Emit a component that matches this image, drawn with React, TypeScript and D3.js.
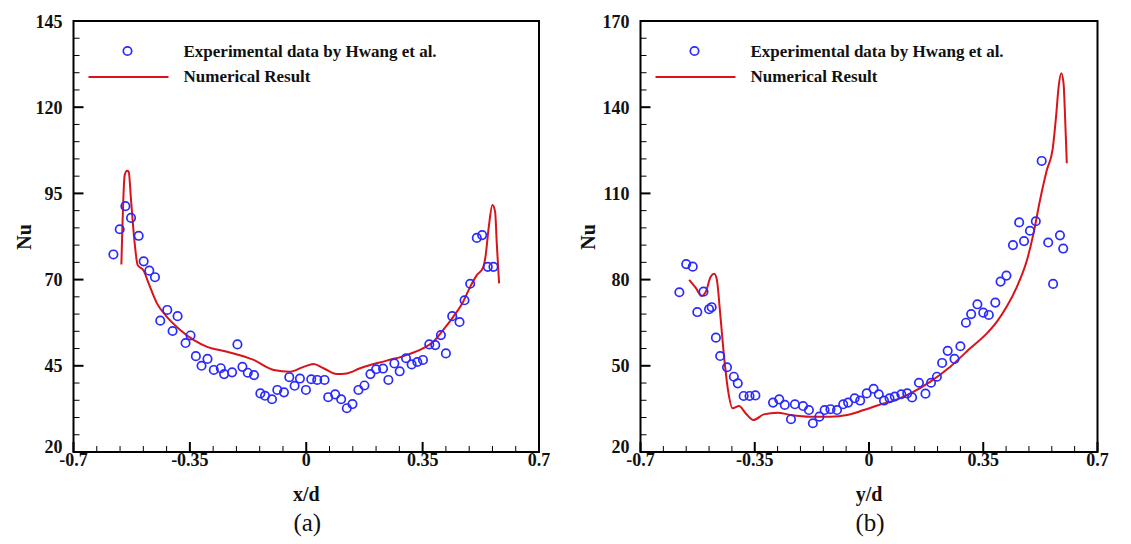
import React from "react";
import * as d3 from "d3";

// ---------- Data ----------
const xTicks = [-0.7, -0.35, 0, 0.35, 0.7];
const xTickLabels = ["-0.7", "-0.35", "0", "0.35", "0.7"];
const yTicksA = [20, 45, 70, 95, 120, 145];
const yTicksB = [20, 50, 80, 110, 140, 170];

const legendLabels = ["Experimental data by Hwang et al.", "Numerical Result"];

// Panel (a): x/d
const expA: [number, number][] = [
  [-0.58, 77.3], [-0.561, 84.6], [-0.544, 91.3], [-0.527, 87.9], [-0.504, 82.7],
  [-0.489, 75.3], [-0.472, 72.6], [-0.455, 70.7], [-0.439, 58.1], [-0.418, 61.2],
  [-0.402, 55.1], [-0.387, 59.4], [-0.363, 51.6], [-0.348, 53.8], [-0.332, 47.8],
  [-0.315, 45.0], [-0.297, 47.0], [-0.278, 43.8], [-0.257, 44.3], [-0.247, 42.6],
  [-0.223, 43.1], [-0.207, 51.2], [-0.192, 44.7], [-0.176, 43.0], [-0.157, 42.3],
  [-0.138, 37.0], [-0.124, 36.3], [-0.103, 35.3], [-0.087, 38.0], [-0.067, 37.3],
  [-0.051, 41.7], [-0.035, 39.2], [-0.019, 41.3], [-0.001, 38.0], [0.015, 41.1],
  [0.033, 40.9], [0.055, 40.9], [0.066, 35.9], [0.087, 36.7], [0.105, 35.3],
  [0.122, 32.7], [0.139, 33.9], [0.157, 38.0], [0.175, 39.3], [0.193, 42.6],
  [0.21, 44.0], [0.231, 44.2], [0.247, 40.9], [0.265, 45.7], [0.281, 43.4],
  [0.3, 47.2], [0.317, 45.4], [0.334, 46.1], [0.351, 46.7], [0.37, 51.2],
  [0.388, 51.0], [0.405, 53.9], [0.42, 48.6], [0.439, 59.4], [0.461, 57.7],
  [0.476, 64.0], [0.493, 68.8], [0.513, 82.1], [0.529, 82.9], [0.546, 73.7],
  [0.563, 73.7],
];

const numA: [number, number][] = [
  [-0.556, 74.4], [-0.546, 100.3], [-0.539, 101.6], [-0.534, 101.3], [-0.527, 93.1],
  [-0.517, 81.5], [-0.507, 74.2], [-0.489, 72.6], [-0.474, 68.9], [-0.449, 63.1],
  [-0.419, 59.2], [-0.379, 55.4], [-0.339, 52.5], [-0.298, 50.5], [-0.238, 49.1],
  [-0.158, 46.7], [-0.098, 43.8], [-0.048, 43.3], [-0.008, 44.7], [0.022, 45.5],
  [0.052, 44.3], [0.092, 42.6], [0.122, 42.8], [0.162, 44.3], [0.242, 46.5],
  [0.302, 48.1], [0.352, 50.1], [0.382, 52.0], [0.412, 55.4], [0.442, 59.2],
  [0.472, 63.6], [0.493, 67.9], [0.513, 71.3], [0.531, 73.3], [0.539, 76.6],
  [0.549, 85.3], [0.56, 91.6], [0.568, 89.7], [0.573, 80.5], [0.58, 68.9],
];

// Panel (b): y/d
const expB: [number, number][] = [
  [-0.581, 75.6], [-0.56, 85.4], [-0.54, 84.5], [-0.526, 68.7], [-0.507, 75.8],
  [-0.49, 69.7], [-0.482, 70.4], [-0.469, 59.8], [-0.456, 53.4], [-0.435, 49.5],
  [-0.414, 46.2], [-0.402, 43.9], [-0.384, 39.5], [-0.366, 39.5], [-0.348, 39.7],
  [-0.294, 37.2], [-0.275, 38.3], [-0.258, 36.4], [-0.239, 31.4], [-0.227, 36.6],
  [-0.202, 36.0], [-0.184, 34.6], [-0.172, 30.0], [-0.152, 32.3], [-0.136, 34.6],
  [-0.118, 34.9], [-0.098, 34.6], [-0.079, 36.6], [-0.064, 37.2], [-0.044, 38.7],
  [-0.027, 37.9], [-0.007, 40.4], [0.014, 42.0], [0.03, 40.1], [0.046, 37.9],
  [0.063, 38.7], [0.079, 39.3], [0.099, 40.1], [0.117, 40.4], [0.132, 39.0],
  [0.153, 44.1], [0.173, 40.3], [0.19, 44.1], [0.208, 46.2], [0.224, 51.0],
  [0.241, 55.2], [0.262, 52.4], [0.28, 56.8], [0.297, 65.0], [0.313, 68.0],
  [0.332, 71.4], [0.35, 68.5], [0.367, 67.7], [0.387, 72.0], [0.403, 79.3],
  [0.421, 81.4], [0.441, 92.0], [0.46, 99.9], [0.475, 93.4], [0.493, 97.0],
  [0.511, 100.3], [0.529, 121.3], [0.549, 92.9], [0.564, 78.5], [0.585, 95.4],
  [0.595, 90.8],
];

const numB: [number, number][] = [
  [-0.551, 79.9], [-0.53, 77.0], [-0.513, 74.3], [-0.5, 75.8], [-0.485, 81.0],
  [-0.474, 82.0], [-0.466, 79.9], [-0.456, 68.3], [-0.444, 53.2], [-0.432, 41.6],
  [-0.418, 35.2], [-0.398, 36.0], [-0.378, 33.5], [-0.354, 31.1], [-0.322, 33.1],
  [-0.281, 33.7], [-0.24, 32.9], [-0.179, 32.3], [-0.118, 32.3], [-0.067, 32.9],
  [-0.016, 34.6], [0.045, 36.9], [0.066, 37.5], [0.127, 40.4], [0.188, 44.5],
  [0.249, 49.7], [0.31, 56.1], [0.361, 61.3], [0.392, 65.4], [0.422, 70.6],
  [0.453, 77.5], [0.484, 86.8], [0.504, 96.1], [0.524, 107.7], [0.545, 118.2],
  [0.563, 125.7], [0.573, 136.7], [0.581, 147.2], [0.589, 151.8], [0.596, 148.3],
  [0.601, 135.6], [0.606, 120.5],
];

const RED = "#d7141a";
const BLUE = "#2a2aff";
const FONT = "'Liberation Serif', 'Times New Roman', serif";

const boldText = {
  fontFamily: FONT,
  fontWeight: "bold" as const,
  fill: "#111",
};

type PanelProps = {
  left: number;
  right: number;
  top: number;
  bottom: number;
  yDomain: [number, number];
  yTicks: number[];
  exp: [number, number][];
  num: [number, number][];
  xLabel: string;
  caption: string;
  nuX: number;
};

function Panel(p: PanelProps) {
  const x = d3.scaleLinear().domain([-0.7, 0.7]).range([p.left, p.right]);
  const y = d3.scaleLinear().domain(p.yDomain).range([p.bottom, p.top]);
  const line = d3
    .line<[number, number]>()
    .x((d) => x(d[0]))
    .y((d) => y(d[1]))
    .curve(d3.curveMonotoneX);

  const xMinor = d3.range(-0.7, 0.7001, 0.07).filter(
    (v) => !xTicks.some((t) => Math.abs(t - v) < 1e-6)
  );
  const yStep = (p.yTicks[1] - p.yTicks[0]) / 5;
  const yMinor = d3
    .range(p.yDomain[0], p.yDomain[1] + 1e-6, yStep)
    .filter((v) => !p.yTicks.some((t) => Math.abs(t - v) < 1e-6));

  const cx = (p.left + p.right) / 2;
  const legX = p.left;

  return (
    <g>
      {/* minor ticks */}
      {xMinor.map((v, i) => (
        <line key={"xm" + i} x1={x(v)} x2={x(v)} y1={p.bottom} y2={p.bottom - 6} stroke="#000" strokeWidth={1} />
      ))}
      {yMinor.map((v, i) => (
        <line key={"ym" + i} x1={p.left} x2={p.left + 6} y1={y(v)} y2={y(v)} stroke="#000" strokeWidth={1} />
      ))}
      {/* major ticks */}
      {xTicks.map((v, i) => (
        <g key={"xt" + i}>
          <line x1={x(v)} x2={x(v)} y1={p.bottom} y2={p.bottom - 10} stroke="#000" strokeWidth={2} />
          <text x={x(v)} y={p.bottom + 14} textAnchor="middle" fontSize={18} {...boldText}>
            {xTickLabels[i]}
          </text>
        </g>
      ))}
      {p.yTicks.map((v, i) => (
        <g key={"yt" + i}>
          <line x1={p.left} x2={p.left + 10} y1={y(v)} y2={y(v)} stroke="#000" strokeWidth={2} />
          <text
            x={p.left - 11}
            y={y(v) + (i === 0 ? 1 : 6.5)}
            textAnchor="end"
            fontSize={18}
            {...boldText}
          >
            {v}
          </text>
        </g>
      ))}
      {/* frame */}
      <rect x={p.left} y={p.top} width={p.right - p.left} height={p.bottom - p.top} fill="none" stroke="#000" strokeWidth={2} />

      {/* numerical line */}
      <path d={line(p.num) || ""} fill="none" stroke={RED} strokeWidth={2} />
      {/* experimental points */}
      {p.exp.map((d, i) => (
        <circle key={"c" + i} cx={x(d[0])} cy={y(d[1])} r={4.2} fill="none" stroke={BLUE} strokeWidth={1.7} />
      ))}

      {/* legend */}
      <circle cx={legX + 54} cy={51} r={4.2} fill="none" stroke={BLUE} strokeWidth={1.7} />
      <text x={legX + 110} y={57} fontSize={17} {...boldText}>
        {legendLabels[0]}
      </text>
      <line x1={legX + 15} x2={legX + 95} y1={77} y2={77} stroke={RED} strokeWidth={2} />
      <text x={legX + 110} y={82} fontSize={17} {...boldText}>
        {legendLabels[1]}
      </text>

      {/* axis titles */}
      <text x={cx} y={501} textAnchor="middle" fontSize={20} {...boldText}>
        {p.xLabel}
      </text>
      <text
        transform={`translate(${p.nuX},237) rotate(-90)`}
        textAnchor="middle"
        fontSize={20}
        {...boldText}
      >
        Nu
      </text>
      <text x={cx + 1} y={531} textAnchor="middle" fontFamily={FONT} fontSize={25} fill="#111">
        {p.caption}
      </text>
    </g>
  );
}

export default function App() {
  return (
    <svg
      width={1131}
      height={544}
      style={{ position: "absolute", left: 0, top: 0, background: "#fff" }}
    >
      <rect x={0} y={0} width={1131} height={544} fill="#fff" />
      <Panel
        left={73.5}
        right={539}
        top={21}
        bottom={452}
        yDomain={[20, 145]}
        yTicks={yTicksA}
        exp={expA}
        num={numA}
        xLabel="x/d"
        caption="(a)"
        nuX={31}
      />
      <Panel
        left={640.5}
        right={1097.5}
        top={21}
        bottom={452}
        yDomain={[20, 170]}
        yTicks={yTicksB}
        exp={expB}
        num={numB}
        xLabel="y/d"
        caption="(b)"
        nuX={595}
      />
    </svg>
  );
}
